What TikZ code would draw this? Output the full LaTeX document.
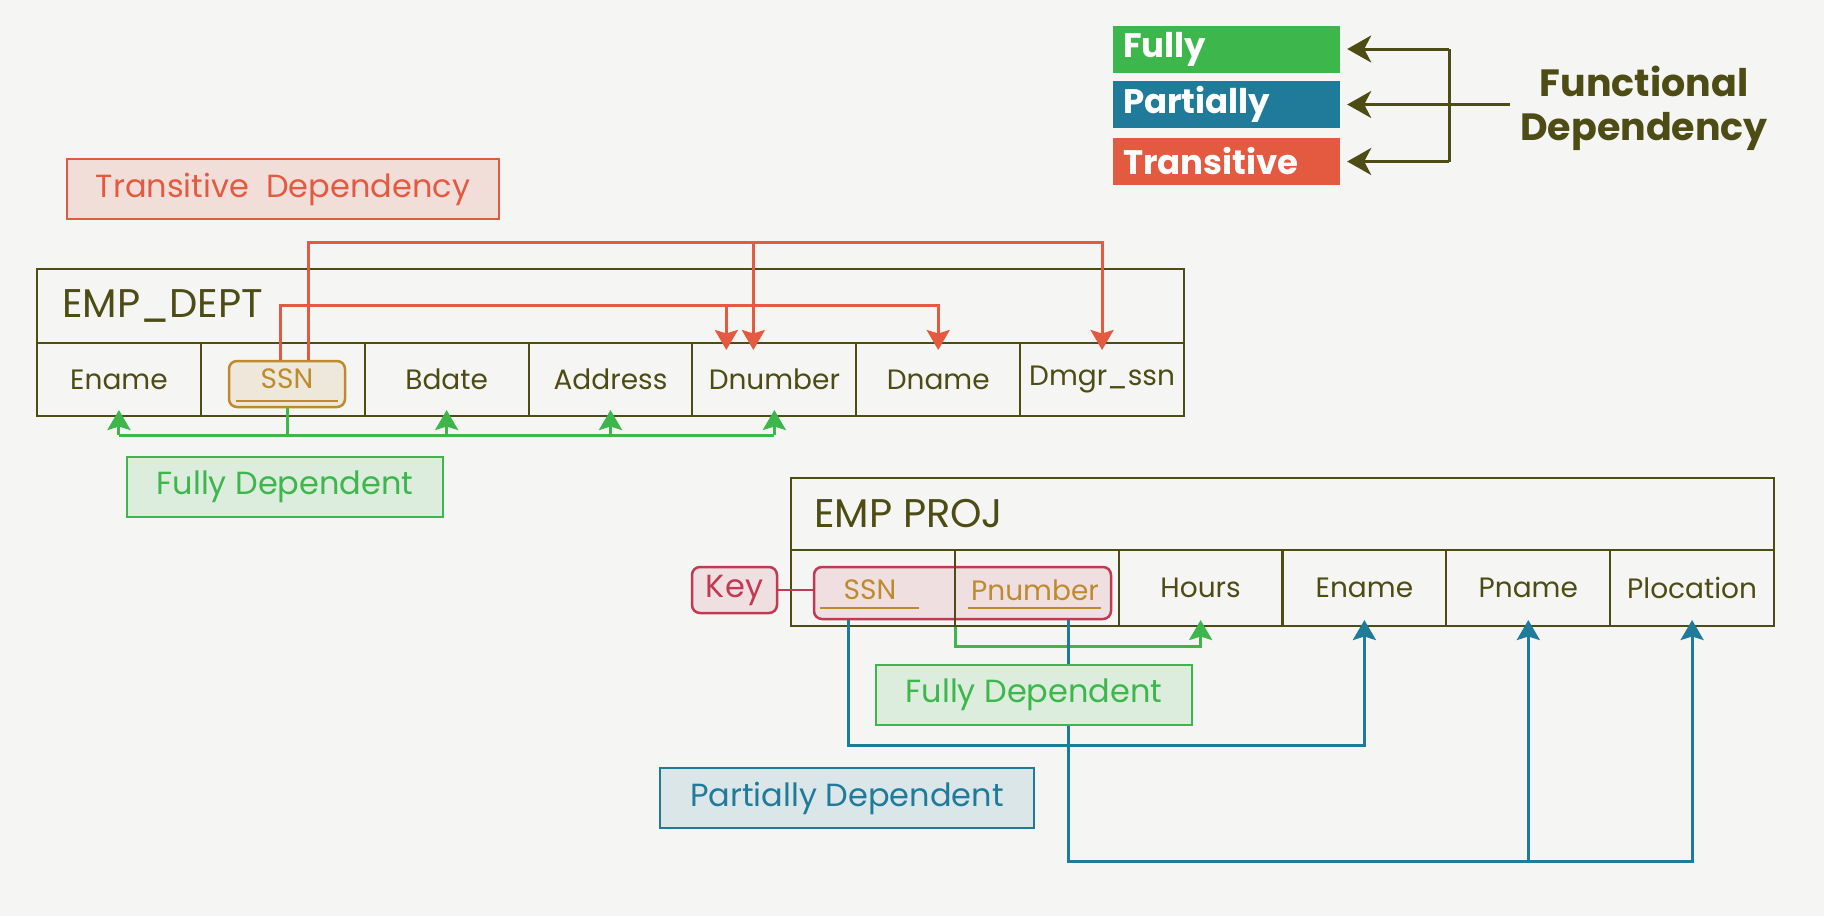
\documentclass[tikz,border=0pt]{standalone}
\usepackage{fontspec}
\setmainfont{Poppins}
\usetikzlibrary{arrows.meta}
\definecolor{paper}{HTML}{F5F5F3}
\definecolor{olive}{HTML}{4D4C14}
\definecolor{tred}{HTML}{E35A41}
\definecolor{tgreen}{HTML}{3DB64C}
\definecolor{tblue}{HTML}{207B9B}
\definecolor{ssnc}{HTML}{BD8A2E}
\definecolor{keyc}{HTML}{C23A52}
\begin{document}
\begin{tikzpicture}[x=1pt,y=-1pt,
  cellfont/.style={font=\fontsize{28}{33}\selectfont},
  cell/.style={draw=olive, line width=2pt, minimum width=163.86pt, minimum height=73pt, inner sep=0pt, text=olive, cellfont},
  pcell/.style={cell, minimum width=163.83pt, minimum height=76pt},
  hdr/.style={draw=olive, line width=2pt, inner sep=0pt},
  ttl/.style={text=olive, font=\fontsize{40}{48}\selectfont, anchor=west, inner sep=0pt},
  lab/.style={line width=2.5pt, minimum height=60pt, inner sep=0pt, font=\fontsize{32}{38}\selectfont},
  conn/.style={line width=3pt},
  arrowtip/.style={-{Stealth[length=20pt,width=23pt,inset=3.5pt]}},
  legtip/.style={-{Stealth[length=24pt,width=27pt,inset=7pt]}},
  keybox/.style={draw=keyc, fill=keyc!12!paper, line width=2.5pt, rounded corners=8pt, inner sep=0pt},
  leg/.style={minimum width=227pt, minimum height=47pt, inner sep=0pt, text=white, font=\fontsize{34}{40}\selectfont\bfseries, text width=207pt, align=left},
  uline/.style={draw=ssnc, line width=2pt}
]
\useasboundingbox (0,0) rectangle (1824,916);
\fill[paper] (0,0) rectangle (1824,916);

% ---------- Legend ----------
\node[leg, fill=tgreen] (lf) at (1226.5,49) {Fully};
\node[leg, fill=tblue] (lp) at (1226.5,104.5) {Partially};
\node[leg, fill=tred] (lt) at (1226.5,161.5) {Transitive};
\node[text=olive, font=\fontsize{38}{44}\selectfont\bfseries, align=center, anchor=west, inner sep=0pt] (fdep) at (1520,108) {Functional\\Dependency};
\coordinate (vx) at (1449,0);
\coordinate (fw) at ([xshift=-10pt]fdep.west);
\draw[olive, line width=3pt] (vx |- lf.east) -- (vx |- lt.east);
\draw[olive, line width=3pt, legtip] (vx |- lf.east) -- ([xshift=7pt]lf.east);
\draw[olive, line width=3pt, legtip] (vx |- lt.east) -- ([xshift=7pt]lt.east);
\draw[olive, line width=3pt, legtip] (fw |- lp.east) -- ([xshift=7pt]lp.east);

% ---------- EMP_DEPT ----------
\node[hdr, minimum width=1147pt, minimum height=74pt] (dhead) at (610.5,306) {};
\node[ttl] (dtitle) at (62,306) {EMP\_DEPT};
\node[cell] (d1) at (118.93,379.5) {Ename};
\node[cell] (d2) at (282.79,379.5) {};
\node[cell] (d3) at (446.64,379.5) {Bdate};
\node[cell] (d4) at (610.5,379.5) {Address};
\node[cell] (d5) at (774.36,379.5) {Dnumber};
\node[cell] (d6) at (938.21,379.5) {Dname};
\node[cell] (d7) at (1102.07,379.5) {Dmgr\_ssn};
\node[draw=ssnc, fill=ssnc!12!paper, line width=2.5pt, rounded corners=8pt, minimum width=116pt, minimum height=46pt, inner sep=0pt] (dssn) at (287,384) {};
\node[text=ssnc, cellfont, inner sep=0pt] (dssnt) at (287,379) {SSN};
\draw[uline] ([xshift=8pt,yshift=7pt]dssn.south west) -- ([xshift=-8pt,yshift=7pt]dssn.south east);

% transitive connectors
\coordinate (tr1) at (0,305);
\coordinate (tr2) at (0,242);
\coordinate (s1) at ([xshift=-7pt]dssn.north);
\coordinate (s2) at ([xshift=21pt]dssn.north);
\coordinate (n1) at ([xshift=-48pt,yshift=-8pt]d5.north);
\coordinate (n2) at ([xshift=-21pt,yshift=-8pt]d5.north);
\coordinate (t6) at ([yshift=-8pt]d6.north);
\coordinate (t7) at ([yshift=-8pt]d7.north);
\draw[conn, tred, arrowtip] (s1) -- (s1 |- tr1) -| (t6);
\draw[conn, tred, arrowtip] (n1 |- tr1) -- (n1);
\draw[conn, tred, arrowtip] (s2) -- (s2 |- tr2) -| (t7);
\draw[conn, tred, arrowtip] (n2 |- tr2) -- (n2);

% fully connectors
\coordinate (g1) at (0,435);
\draw[conn, tgreen] (dssn.south) -- (dssn.south |- g1);
\draw[conn, tgreen] (d1.south |- g1) -- (d5.south |- g1);
\foreach \n in {d1,d3,d4,d5}{
  \draw[conn, tgreen, arrowtip] (\n.south |- g1) -- ([yshift=7pt]\n.south);
}

\node[lab, draw=tred, fill=tred!15!paper, text=tred, minimum width=432pt] (tdl) at (283,189) {Transitive\ \ Dependency};
\node[lab, draw=tgreen, fill=tgreen!13!paper, text=tgreen, minimum width=316pt] (fd1) at (285,487) {Fully Dependent};

% ---------- EMP PROJ ----------
\node[keybox, minimum width=297pt, minimum height=52pt] (ck) at (962.5,593) {};
\node[hdr, minimum width=983pt, minimum height=72pt] (phead) at (1282.5,514) {};
\node[ttl] (ptitle) at (814,514) {EMP PROJ};
\node[pcell] (p1) at (872.9,588) {};
\node[pcell] (p2) at (1036.8,588) {};
\node[pcell] (p3) at (1200.6,588) {Hours};
\node[pcell] (p4) at (1364.4,588) {Ename};
\node[pcell] (p5) at (1528.3,588) {Pname};
\node[pcell] (p6) at (1692.1,588) {Plocation};
\node[text=ssnc, cellfont, inner sep=0pt] (pssn) at (870,590) {SSN};
\node[text=ssnc, cellfont, inner sep=0pt] (pnum) at (1035,590) {Pnumber};
\draw[uline] ([xshift=7pt,yshift=12pt]ck.south west) -- ([xshift=106pt,yshift=12pt]ck.south west);
\draw[uline] ([xshift=155pt,yshift=12pt]ck.south west) -- ([xshift=-11pt,yshift=12pt]ck.south east);

\node[keybox, minimum width=85pt, minimum height=46pt, text=keyc, font=\fontsize{32}{38}\selectfont] (key) at (734.5,590) {Key};
\draw[keyc, line width=2.5pt] (key.east) -- (key.east -| ck.west);

% fully connector
\coordinate (g2) at (0,646);
\draw[conn, tgreen, arrowtip] (p1.south east) -- (p1.south east |- g2) -| ([yshift=7pt]p3.south);

% partial connectors
\coordinate (b1) at (0,745);
\coordinate (b2) at (0,861);
\coordinate (ks) at ([xshift=-114.5pt]ck.south);
\coordinate (kp) at ([xshift=105.5pt]ck.south);
\draw[conn, tblue, arrowtip] (ks) -- (ks |- b1) -| ([yshift=7pt]p4.south);
\draw[conn, tblue, arrowtip] (kp) -- (kp |- b2) -| ([yshift=7pt]p6.south);
\draw[conn, tblue, arrowtip] (p5.south |- b2) -- ([yshift=7pt]p5.south);

\node[lab, draw=tgreen, fill=tgreen!13!paper, text=tgreen, minimum width=316pt] (fd2) at (1034,695) {Fully Dependent};
\node[lab, draw=tblue, fill=tblue!12!paper, text=tblue, minimum width=374pt] (pd) at (847,798) {Partially Dependent};
\end{tikzpicture}
\end{document}
